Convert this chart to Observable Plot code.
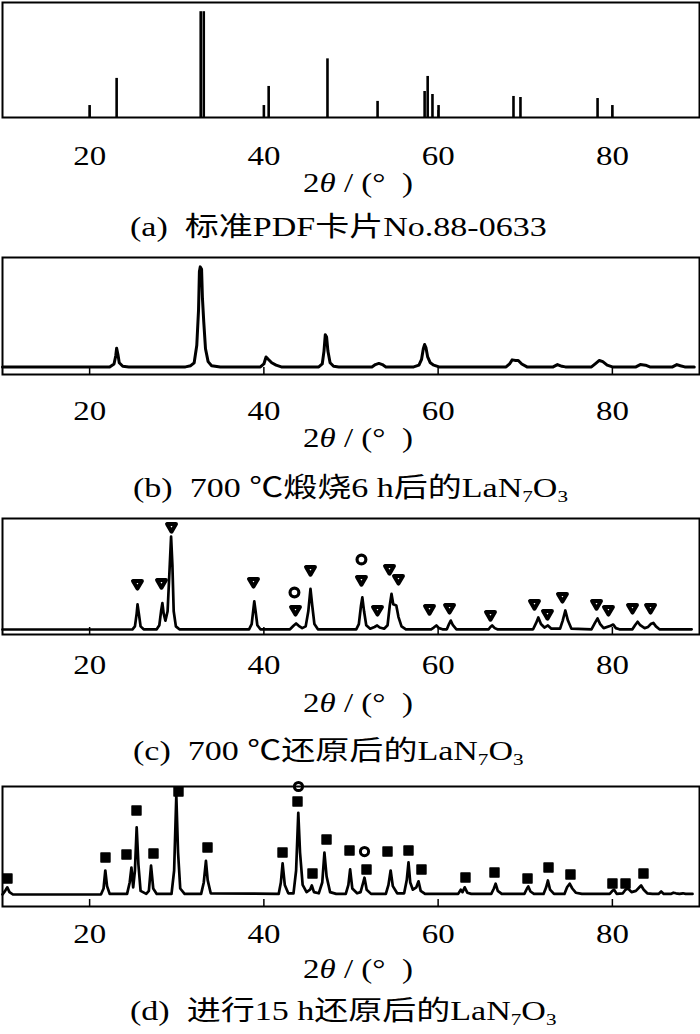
<!DOCTYPE html>
<html><head><meta charset="utf-8">
<script src="https://cdn.jsdelivr.net/npm/d3@7"></script>
<script src="https://cdn.jsdelivr.net/npm/@observablehq/plot@0.6"></script>
<style>
body{margin:0;background:#fff;}
#root{position:relative;width:700px;height:1034px;overflow:hidden;background:#fff;}
.panel{position:absolute;left:0;}
.txt{position:absolute;text-align:left;font-family:"Liberation Serif","Noto Sans CJK SC",serif;font-size:27px;line-height:30px;white-space:pre;color:#000;transform-origin:left center;}
.txt sub{font-size:0.62em;vertical-align:-0.3em;line-height:0;}
</style></head><body><div id="root"></div><script>
// ---------- data ----------
const xTicks = [20, 40, 60, 80];
const axisLabelHtml = '2<i>θ</i> / (°  )';
const captions = [
  '(a)  标准PDF卡片No.88-0633',
  '(b)  700 ℃煅烧6 h后的LaN<sub>7</sub>O<sub>3</sub>',
  '(c)  700 ℃还原后的LaN<sub>7</sub>O<sub>3</sub>',
  '(d)  进行15 h还原后的LaN<sub>7</sub>O<sub>3</sub>'
];

// (a) standard PDF card lines
const pdfAngle     = [20.0, 23.1, 32.75, 33.1, 40.0, 40.55, 47.3, 53.05, 58.45, 58.8, 59.35, 60.05, 68.65, 69.45, 78.3, 80.0];
const pdfIntensity = [10.4, 34,   92,    92,   10.4, 27,    51,   14,    22.6,  35.7, 20,    10.4,  18.3,  17.4,  16.5, 10.4];

// (b) calcined 700 °C, 6 h
const profileB = [[10,6.5],[22.3,6.5],[22.8,9],[23.0,16],[23.1,22.5],[23.25,17],[23.4,10],[23.8,7],[24.5,6.5],
  [31.0,6.5],[31.6,7.5],[32.0,10],[32.3,25],[32.5,55],[32.6,88],[32.7,92],[32.85,90],[32.95,65],[33.1,45],[33.3,22],[33.6,11],[34.0,7.5],[35.0,6.5],
  [39.6,6.5],[40.0,9],[40.25,15],[40.5,13],[40.9,10],[41.4,8],[42.0,6.5],
  [46.3,6.5],[46.7,9],[46.9,20],[47.05,34],[47.2,32],[47.35,20],[47.6,10],[48.0,7],[48.6,6.5],
  [52.4,6.5],[52.8,8.5],[53.2,9.5],[53.6,8.5],[54.0,6.5],
  [57.2,6.5],[57.8,8],[58.1,13],[58.3,22],[58.45,25.6],[58.6,23],[58.8,15],[59.1,10],[59.5,8],[60.1,6.5],
  [67.8,6.5],[68.2,9],[68.5,12.5],[68.9,12],[69.2,12],[69.6,9],[70.2,6.5],
  [73.2,6.5],[73.7,8.5],[74.2,7],[74.6,6.5],
  [77.6,6.5],[78.1,9.5],[78.5,12],[78.9,11],[79.4,8],[80.0,6.5],
  [82.7,6.5],[83.2,8.5],[83.8,8],[84.3,6.5],
  [86.9,6.5],[87.4,8.5],[87.8,7.5],[88.3,6.5],[89.4,6.5]];

// (c) reduced at 700 °C
const profileC = [[10,4.3],[24.9,4.3],[25.2,7],[25.4,18],[25.5,26],[25.65,18],[25.85,7],[26.2,4.5],
  [27.7,4.5],[28.0,8],[28.2,20],[28.35,27],[28.5,18],[28.7,12],[28.95,20],[29.2,60],[29.35,84.5],[29.5,60],[29.65,20],[29.9,7],[30.3,4.5],
  [38.3,4.5],[38.6,9],[38.8,22],[38.9,28.5],[39.05,20],[39.25,8],[39.6,4.5],
  [43.0,4.5],[43.4,7.5],[43.7,9.5],[44.0,7.5],[44.4,5.5],[44.8,7],[45.1,20],[45.35,39.4],[45.55,25],[45.8,9],[46.2,4.5],
  [50.6,4.5],[50.9,9],[51.15,25],[51.3,32],[51.5,20],[51.75,8],[52.2,5],[52.7,6.5],[53.0,7.8],[53.3,6],[53.8,5],[54.2,8],[54.45,25],[54.65,35],[54.85,26],[55.2,25],[55.45,15],[55.8,7],[56.3,4.5],
  [59.2,4.5],[59.5,6],[59.8,7.8],[60.1,5.5],[60.5,4.5],
  [61.0,4.5],[61.25,9],[61.45,12],[61.7,8],[62.1,4.5],
  [65.8,4.5],[66.0,6.5],[66.2,7.8],[66.5,5.5],[66.8,4.5],
  [70.9,4.5],[71.25,10],[71.5,14.7],[71.8,9],[72.2,6],[72.6,7.8],[73.0,5],[74.0,5],[74.3,12],[74.6,20.7],[74.9,12],[75.3,5],
  [77.6,4.5],[78.0,10],[78.3,13.8],[78.6,9],[79.0,5.5],[79.8,7.5],[80.1,8.6],[80.4,5.5],[80.8,4.5],
  [82.3,4.5],[82.6,8],[82.9,11],[83.2,8],[83.7,5.5],[84.1,6.5],[84.4,9],[84.7,10],[85.0,7],[85.4,4.5],[89.1,4.5]];
const triAngleC     = [25.49, 28.25, 29.40, 38.81, 43.63, 45.35, 51.20, 53.04, 54.42, 55.45, 59.01, 61.31, 66.01, 71.06, 72.55, 74.27, 78.18, 79.55, 82.31, 84.38];
const triIntensityC = [44.0,  44.8,  93.1,  45.7,  21.6,  56.0,  47.4,  21.6,  56.9,  48.3,  22.4,  23.3,  17.2,  26.7,  18.1,  32.8,  26.7,  21.6,  23.3,  23.3];
const circAngleC     = [43.51, 51.20];
const circIntensityC = [36.2,  64.7];

// (d) reduced for 15 h
const profileD = [[10,10],[10.3,13],[10.55,16],[10.8,12],[11.2,10],
  [21.3,10],[21.6,15],[21.8,30],[22.0,17],[22.3,10.5],
  [24.3,10.5],[24.6,20],[24.8,32.5],[25.0,16],[25.2,30],[25.4,66],[25.6,35],[25.85,13],[26.5,10.5],[26.8,13],[27.05,34],[27.3,15],[27.7,10.5],
  [29.4,10.5],[29.7,30],[29.95,92.5],[30.15,45],[30.4,15],[30.9,10.5],
  [32.8,10.5],[33.1,20],[33.35,38],[33.55,22],[33.9,11],
  [41.7,10.5],[41.95,20],[42.15,36],[42.4,18],[42.8,11],[43.4,11],[43.7,30],[43.95,78],[44.15,45],[44.45,18],[44.9,12],[45.3,14],[45.5,17.5],[45.75,12],[46.3,11],[46.7,20],[46.95,45],[47.2,25],[47.6,12],[48.3,10.5],
  [49.4,10.5],[49.7,18],[49.9,31],[50.15,15],[50.7,11],[51.1,12],[51.4,20],[51.55,24],[51.8,14],[52.3,10.5],
  [54.0,10.5],[54.3,18],[54.55,30],[54.8,17],[55.3,11],[56.1,11],[56.4,22],[56.6,36.7],[56.8,20],[57.1,14],[57.5,16],[57.75,21],[58.0,13],[58.5,10.5],
  [62.3,10.5],[62.6,14],[62.8,12],[63.05,16],[63.35,11.5],[63.8,10.5],
  [66.1,10.5],[66.4,15],[66.6,19],[66.85,13],[67.3,10.5],
  [69.9,10.5],[70.2,15],[70.35,16.7],[70.6,12.5],[71.0,10.5],
  [72.1,10.5],[72.4,16],[72.6,21.7],[72.85,14],[73.3,10.5],
  [74.5,10.5],[74.8,16],[75.1,19],[75.4,15],[75.8,11.5],[76.5,10.5],
  [79.7,10.5],[80.0,13],[80.2,14],[80.5,10.5],[81.2,11],[81.5,14],[81.8,15],[82.2,12],[82.7,13],[83.1,16],[83.3,17.5],[83.6,14],[84.0,11],[84.6,10.5],
  [85.3,10.5],[85.6,12.5],[85.9,10.5],[86.7,10.5],[87.0,11.5],[87.3,11],[87.7,10.5],[88.1,11],[88.4,10.5],[89.2,10.5]];
const sqAngleD     = [10.57, 21.82, 24.23, 25.38, 27.33, 30.20, 33.53, 42.14, 43.86, 45.58, 47.19, 49.83, 51.78, 54.19, 56.60, 58.09, 63.14, 66.47, 70.26, 72.67, 75.19, 80.01, 81.51, 83.57];
const sqIntensityD = [23.3,  40.8,  43.3,  80.0,  44.2,  95.8,  49.2,  45.0,  87.5,  27.5,  55.8,  46.7,  30.8,  45.8,  46.7,  30.8,  24.2,  28.3,  23.3,  32.5,  26.7,  19.2,  19.2,  27.5];
const circAngleD     = [43.97, 51.55];
const circIntensityD = [100,   45.8];

// ---------- drawing ----------
const root = document.getElementById('root');
const MT = 10, MB = 70;
const idx = a => a.map((_, i) => i);

function panel(frameTop, frameBottom, tickPad, marks) {
  const H = frameBottom - frameTop;
  const plot = Plot.plot({
    width: 700, height: MT + H + MB,
    marginLeft: 2, marginRight: 1, marginTop: MT, marginBottom: MB,
    x: {domain: [10, 90]},
    y: {domain: [0, 100], axis: null},
    style: {fontFamily: '"Liberation Serif", serif', fontSize: "27px", background: "transparent", overflow: "visible", color: "black"},
    marks: [
      ...marks,
      Plot.axisX({ticks: xTicks, tickSize: 7, dy: -7, fill: "none", label: null, strokeWidth: 1.5}),
      Plot.axisX({ticks: xTicks, tickSize: 0, tickPadding: tickPad, label: null, fontSize: 27, fill: "black"}),
      Plot.frame({stroke: "black", strokeWidth: 2})
    ]
  });
  plot.querySelectorAll('g[aria-label="x-axis tick label"] text').forEach(t => {
    const tr = t.getAttribute('transform');
    if (tr) t.setAttribute('transform', tr + ' scale(1.22,1)');
    else {
      const x = +t.getAttribute('x') || 0;
      t.setAttribute('transform', `translate(${x},0) scale(1.22,1) translate(${-x},0)`);
    }
  });
  const div = document.createElement('div');
  div.className = 'panel';
  div.style.top = (frameTop - MT) + 'px';
  div.appendChild(plot);
  root.appendChild(div);
}
function text(html, left, cy, sx) {
  const d = document.createElement('div');
  d.className = 'txt';
  d.style.top = cy + 'px';
  d.style.left = left + 'px';
  d.style.transform = `translateY(-50%) scaleX(${sx})`;
  d.innerHTML = html;
  root.appendChild(d);
}

// (a)
panel(2, 117, 28, [
  Plot.ruleX(idx(pdfAngle), {x: i => pdfAngle[i], y1: 0, y2: i => pdfIntensity[i], stroke: "black", strokeWidth: 2.6})
]);
// (b)
panel(257, 374, 26, [
  Plot.line(profileB, {x: d => d[0], y: d => d[1], stroke: "black", strokeWidth: 3, strokeLinejoin: "round"})
]);
// (c)
panel(518, 634, 20, [
  Plot.line(profileC, {x: d => d[0], y: d => d[1], stroke: "black", strokeWidth: 2.7, strokeLinejoin: "round"}),
  Plot.dot(idx(triAngleC), {x: i => triAngleC[i], y: i => triIntensityC[i], symbol: "triangle", rotate: 180, r: 3.3, fill: "white", stroke: "black", strokeWidth: 4, strokeLinejoin: "round"}),
  Plot.dot(idx(circAngleC), {x: i => circAngleC[i], y: i => circIntensityC[i], r: 4.4, fill: "white", stroke: "black", strokeWidth: 3.2})
]);
// (d)
panel(786, 906, 17, [
  Plot.line(profileD, {x: d => d[0], y: d => d[1], stroke: "black", strokeWidth: 2.7, strokeLinejoin: "round"}),
  Plot.dot(idx(sqAngleD), {x: i => sqAngleD[i], y: i => sqIntensityD[i], symbol: "square", r: 5.1, fill: "black", stroke: "black", strokeWidth: 1.4, strokeLinejoin: "round"}),
  Plot.dot(idx(circAngleD), {x: i => circAngleD[i], y: i => circIntensityD[i], r: 4.1, fill: "white", stroke: "black", strokeWidth: 3})
]);

// axis titles and captions
const axisY = [183, 438, 703, 969];
const capY  = [227, 488, 751, 1011];
const capX  = [130, 133, 133, 130];
axisY.forEach(y => text(axisLabelHtml, 303, y, 1.22));
captions.forEach((c, i) => text(c, capX[i], capY[i], 1.26));
</script></body></html>
